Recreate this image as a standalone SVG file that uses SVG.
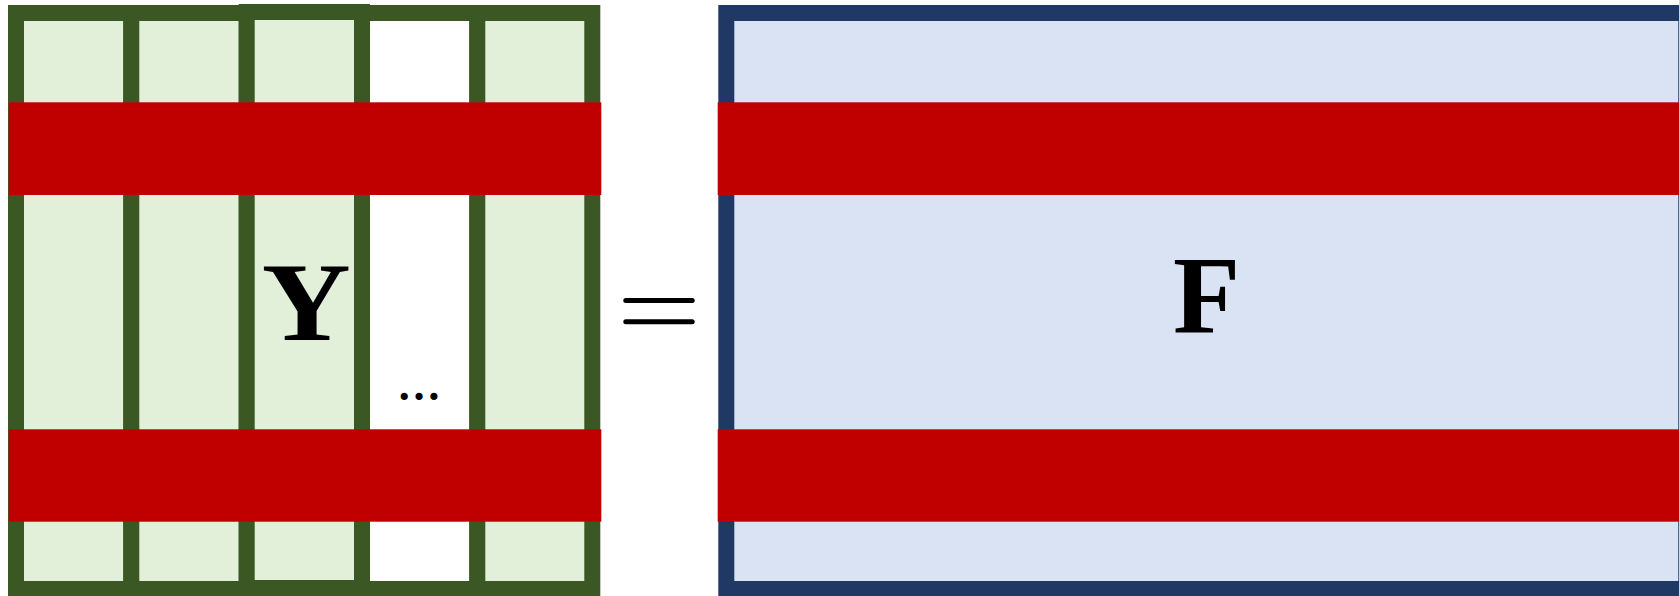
<svg xmlns="http://www.w3.org/2000/svg" width="1679" height="596" viewBox="0 0 1679 596">
  <style>
    .col { fill: #E2EFD9; stroke: #3B5724; stroke-width: 16; }
    .col-empty { fill: #FFFFFF; stroke: #3B5724; stroke-width: 16; }
    .mat { fill: #DAE3F3; stroke: #203864; stroke-width: 16; }
    .band { fill: #C00000; }
    .sym { font-family: "Liberation Serif", "Times New Roman", serif; font-weight: bold; fill: #000000; }
    .eq { stroke: #000000; stroke-width: 5; stroke-linecap: round; }
  </style>

  <!-- Y: a row of column vectors -->
  <g id="Y">
    <g id="y-col-1"><rect class="col" x="16" y="13" width="115.3" height="576"/></g>
    <g id="y-col-2"><rect class="col" x="131.3" y="13" width="115.4" height="576"/></g>
    <g id="y-col-3"><rect class="col" x="246.7" y="12" width="115.3" height="576"/></g>
    <g id="y-col-gap"><rect class="col-empty" x="362" y="13" width="115.3" height="576"/></g>
    <g id="y-col-last"><rect class="col" x="477.3" y="13" width="115" height="576"/></g>
    <g id="y-bands">
      <rect class="band" x="8.7" y="102.3" width="592.6" height="92.7"/>
      <rect class="band" x="8.7" y="429.3" width="592.6" height="92.4"/>
    </g>
    <text class="sym" x="306.3" y="340" font-size="113" text-anchor="middle" textLength="89" lengthAdjust="spacingAndGlyphs">Y</text>
    <text class="sym" x="419" y="399.5" font-size="44" text-anchor="middle">…</text>
  </g>

  <!-- equality sign -->
  <g id="equals">
    <line class="eq" x1="625.8" y1="300.5" x2="692.2" y2="300.5"/>
    <line class="eq" x1="625.8" y1="321.7" x2="692.2" y2="321.7"/>
  </g>

  <!-- F: the full matrix -->
  <g id="F">
    <rect class="mat" x="726.3" y="13" width="960" height="576"/>
    <g id="f-bands">
      <rect class="band" x="717.7" y="102.3" width="961.3" height="92.7"/>
      <rect class="band" x="717.7" y="429.3" width="961.3" height="92.4"/>
    </g>
    <text class="sym" x="1206.5" y="332.7" font-size="110" text-anchor="middle">F</text>
  </g>
</svg>
